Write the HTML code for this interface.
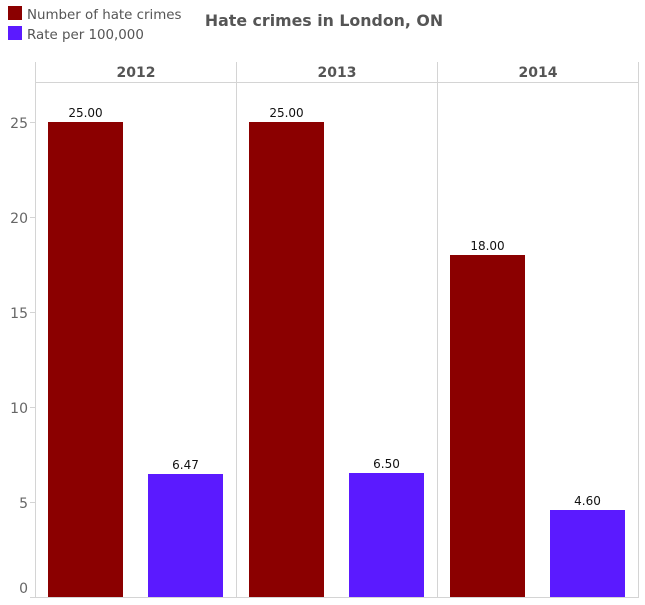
<!DOCTYPE html><html><head><style>body{margin:0;background:#fff}svg{display:block}text{font-family:"DejaVu Sans","Liberation Sans",sans-serif}</style></head><body>
<svg width="645" height="605" xmlns="http://www.w3.org/2000/svg">
<rect x="8" y="6" width="14" height="14" fill="#8b0000"/>
<text x="27" y="19" font-size="13.4" fill="#555">Number of hate crimes</text>
<rect x="8" y="26" width="14" height="14" fill="#5b1aff"/>
<text x="27" y="39" font-size="13.4" fill="#555">Rate per 100,000</text>
<text x="324" y="26" font-size="15.8" font-weight="bold" fill="#555" text-anchor="middle">Hate crimes in London, ON</text>
<g stroke="#d4d4d4" stroke-width="1">
<line x1="35.5" y1="62" x2="35.5" y2="597"/>
<line x1="236.5" y1="62" x2="236.5" y2="597"/>
<line x1="437.5" y1="62" x2="437.5" y2="597"/>
<line x1="638.5" y1="62" x2="638.5" y2="597"/>
<line x1="35" y1="82.5" x2="639" y2="82.5"/>
<line x1="30" y1="597.5" x2="639" y2="597.5"/>
<line x1="30" y1="122.5" x2="35" y2="122.5"/>
<line x1="30" y1="217.5" x2="35" y2="217.5"/>
<line x1="30" y1="312.5" x2="35" y2="312.5"/>
<line x1="30" y1="407.5" x2="35" y2="407.5"/>
<line x1="30" y1="502.5" x2="35" y2="502.5"/>
</g>
<g font-size="14" fill="#666" text-anchor="end">
<text x="28" y="128">25</text><text x="28" y="223">20</text><text x="28" y="318">15</text><text x="28" y="413">10</text><text x="28" y="508">5</text><text x="28" y="593">0</text>
</g>
<g font-size="14" font-weight="bold" fill="#555" text-anchor="middle">
<text x="136" y="77">2012</text><text x="337" y="77">2013</text><text x="538" y="77">2014</text>
</g>
<g fill="#8b0000">
<rect x="48" y="122" width="75" height="475"/>
<rect x="249" y="122" width="75" height="475"/>
<rect x="450" y="255" width="75" height="342"/>
</g>
<g fill="#5b1aff">
<rect x="148" y="474" width="75" height="123"/>
<rect x="349" y="473" width="75" height="124"/>
<rect x="550" y="510" width="75" height="87"/>
</g>
<g font-size="12" fill="#111" text-anchor="middle">
<text x="85.5" y="117">25.00</text><text x="185.5" y="469">6.47</text>
<text x="286.5" y="117">25.00</text><text x="386.5" y="468">6.50</text>
<text x="487.5" y="250">18.00</text><text x="587.5" y="505">4.60</text>
</g>
</svg></body></html>
